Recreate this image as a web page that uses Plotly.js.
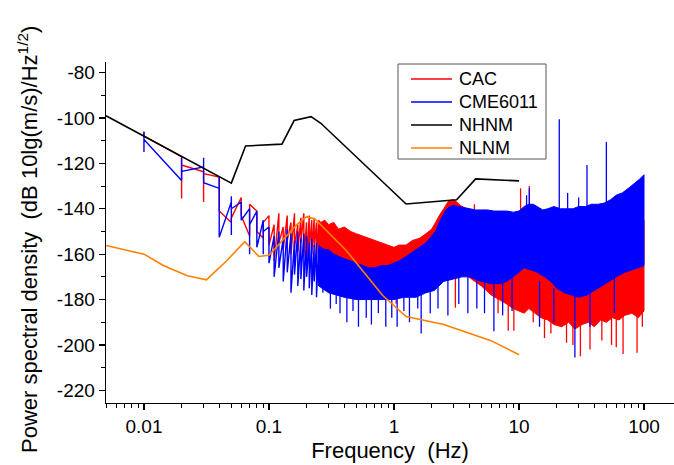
<!DOCTYPE html>
<html>
<head>
<meta charset="utf-8">
<script src="https://cdn.plot.ly/plotly-3.0.1.min.js"></script>
<style>html,body{margin:0;padding:0;background:#fff;}</style>
</head>
<body>
<div id="chart" style="width:674px;height:465px;"></div>
<script>
// ---------- names & tick labels ----------
const SERIES_NAMES = ['CAC', 'CME6011', 'NHNM', 'NLNM'];
const X_TICK_VALS = [0.01, 0.1, 1, 10, 100];
const X_TICK_TEXT = ['0.01', '0.1', '1', '10', '100'];
const Y_TICK_VALS = [-220, -200, -180, -160, -140, -120, -100, -80];
const Y_TICK_TEXT = ['-220', '-200', '-180', '-160', '-140', '-120', '-100', '-80'];

// ---------- reference noise models ----------
const NHNM_F = [0.00497, 0.05, 0.065, 0.127, 0.159, 0.217, 0.26, 1.25, 3.17, 4.5, 10];
const NHNM_V = [-99, -128.7, -112.3, -111.5, -101.1, -99.4, -102.3, -137.9, -136.0, -126.8, -127.7];

const NLNM_F = [0.00497, 0.01, 0.0143, 0.0222, 0.0316, 0.0457, 0.064, 0.083, 0.1, 0.167, 0.2, 0.233, 0.417, 0.806, 1.25, 2.5, 5.9, 10];
const NLNM_V = [-156.2, -160, -165, -169.5, -171.3, -163, -154.5, -161, -160.5, -147, -143.5, -144.5, -158.5, -178, -187.5, -191, -198, -204.3];

// ---------- CAC (red): low-frequency polyline ----------
const CAC_LOW_F = [0.01,0.01,0.02,0.02,0.02,0.03,0.03,0.03,0.04,0.04,0.05,0.05,0.06,0.06,0.07,0.07,0.08,0.08,0.09,0.09,
  0.10,0.10,0.11,0.11,0.12,0.12,0.13,0.13,0.14,0.14,0.15,0.15,0.16,0.16,0.17,0.17,0.18,0.18,0.19,0.19,0.20,0.20,0.21,0.21,0.22,0.22,0.23,0.23,0.24,0.24,0.25,0.25];
const CAC_LOW_V = [-106,-108,-117,-135.5,-120.7,-123.7,-137,-124.5,-126,-141,-146,-144,-135,-143,-152,-138,-141,-150,-153,-146,
  -143,-156,-147,-163,-142,-155,-148,-158,-143,-154,-146,-160,-142,-157,-147,-159,-144,-155,-142,-161,-146,-165,-143,-158,-145,-160,-144,-157,-146,-162,-145,-160];

// CAC dense band (upper / lower edge)
const CAC_UP_F = [0.25,0.26,0.28,0.3,0.33,0.36,0.4,0.45,0.5,0.56,0.63,0.7,0.8,0.9,1.0,1.1,1.25,1.4,1.6,1.8,2.0,2.15,2.3,2.5,2.7,2.9,3.1,3.4,3.8,4.2,4.7,5.3,6.0,6.8,7.6,8.5,9.5,10.5,11.5,13,15,18,22,27,33,40,50,60,75,90,100];
const CAC_UP_V = [-145,-146,-145,-147,-146,-149,-148,-150,-151,-152,-153,-154,-155,-156,-157,-156,-156,-154,-153,-151,-149,-146,-143,-140,-137,-136,-136.5,-138.5,-140,-140.5,-141,-141,-141.5,-141.5,-142,-142,-142.5,-142.5,-145,-148,-150,-150,-150,-150,-150,-150,-150,-148,-146,-145,-145];
const CAC_LO_F = [0.25,0.3,0.4,0.5,0.65,0.8,1.0,1.2,1.5,1.8,2.1,2.5,3,3.5,4,5,6,7,8,9,10,11,12,13.5,15,17,19,22,25,28,32,36,40,45,50,56,63,70,80,90,100];
const CAC_LO_V = [-163,-165,-166,-167,-168,-168,-167,-167,-166,-165,-163,-164,-166,-168,-170,-174,-178,-180,-182,-184,-185,-186,-184,-186,-188,-189,-191,-192,-190,-193,-191,-190,-192,-189,-190,-188,-189,-187,-186,-188,-185];

// CAC isolated spikes
const CAC_SP_F  = [0.26,1.04,1.6,3.1,4.4,6.8,8.2,9.1,10.3,12.1,13,16,18,24,27,31,37,46,55,60,68,88,97];
const CAC_SP_HI = [-160,-166,-164,-166,-138,-175,-180,-182,-131,-130,-184,-186,-186,-188,-188,-188,-188,-188,-188,-188,-186,-186,-185];
const CAC_SP_LO = [-166,-181.8,-178,-183.6,-142,-186,-193.7,-193.7,-142,-140,-190,-197,-195,-199,-200,-205,-202,-198,-200,-201,-204,-203.5,-192];

// ---------- CME6011 (blue): low-frequency polyline ----------
const CME_LOW_F = [0.01,0.01,0.01,0.02,0.02,0.02,0.03,0.03,0.03,0.04,0.04,0.04,0.05,0.05,0.05,0.05,0.06,0.06,0.07,0.07,0.07,0.08,0.08,0.09,0.09,0.09,
  0.10,0.10,0.11,0.11,0.12,0.12,0.13,0.13,0.14,0.14,0.15,0.15,0.16,0.16,0.17,0.17,0.18,0.18,0.19,0.19,0.20,0.20,0.21,0.21,0.22,0.22,0.23,0.23,0.24,0.24,0.25,0.25];
const CME_LOW_V = [-106,-115,-109.5,-127.5,-117.5,-123.5,-121.5,-117.5,-128.5,-131,-126,-152.5,-137,-134.5,-151.5,-140,-137,-145,-140,-160,-147,-141,-157,-145,-160,-150,
  -148,-164,-152,-170,-150,-166,-153,-172,-149,-168,-151,-177,-154,-169,-150,-174,-153,-171,-151,-176,-152,-170,-155,-175,-153,-178,-156,-172,-155,-179,-157,-174];

// CME6011 dense band
const CME_UP_F = [0.25,0.26,0.28,0.3,0.33,0.36,0.4,0.45,0.5,0.56,0.63,0.7,0.8,0.9,1.0,1.1,1.25,1.4,1.6,1.8,2.0,2.15,2.3,2.45,2.6,2.8,3.0,3.3,3.6,4.0,4.5,5.0,5.6,6.3,7.0,8.0,9.0,10,11,12,13,14,15.5,17,19,21.5,24,27,30,34,38,43,48,54,60,67,75,84,92,100];
const CME_UP_V = [-156,-157,-158,-158,-160,-161,-162,-163,-164,-165,-166,-166,-165,-165,-164,-163,-161,-159,-157,-155,-152,-150,-146,-143,-140.5,-139,-138.5,-139,-139.5,-140,-140.5,-140.5,-140.5,-141,-141,-141,-141.5,-141,-139,-138,-138,-139,-140.5,-140,-139,-140,-140,-140,-139,-139,-138,-138,-137.5,-136,-134,-133,-131,-129,-127,-125];
const CME_LO_F = [0.25,0.3,0.35,0.4,0.5,0.6,0.7,0.8,1.0,1.2,1.5,1.8,2.1,2.5,3,3.5,4,4.5,5,6,7,8,9,10,11,12.5,14,16,18,20,23,26,30,35,40,46,53,60,70,80,90,100];
const CME_LO_V = [-174,-177,-178,-179,-180,-180,-180,-180,-180,-179,-179,-177,-176,-172,-171,-170,-170,-171,-172,-173,-173,-172,-170,-168,-166,-167,-168,-170,-172,-175,-177,-178,-179,-178,-176,-174,-172,-170,-168,-167,-166,-165];

// CME6011 isolated spikes
const CME_SP_F  = [0.27,0.31,0.345,0.37,0.42,0.47,0.52,0.6,0.66,0.75,0.86,0.96,1.06,1.2,1.33,1.55,1.65,1.95,2.25,2.7,3.3,3.9,4.6,5.3,6.3,7.4,8.8,11.5,12.1,14.6,19,21,24.5,28,30,35,37,50,58];
const CME_SP_HI = [-172,-174,-174,-175,-176,-176,-177,-177,-177,-176,-176,-176,-176,-176,-176,-175,-175,-173,-171,-168,-168,-168,-169,-170,-171,-171,-170,-134,-131,-172,-175,-100.5,-133,-178,-135,-120.7,-175,-110.5,-170];
const CME_SP_LO = [-177,-184,-182,-186,-190,-185,-192,-188,-191,-186,-192,-188,-192,-185,-190,-184,-195,-186,-184,-187,-182,-186,-184,-186,-194,-187,-185,-141,-140,-192,-190,-140,-140,-205.5,-140,-139,-192,-138,-186];

// ---------- helpers ----------
function band(upF, upV, loF, loV) {
  return { x: upF.concat(loF.slice().reverse()), y: upV.concat(loV.slice().reverse()) };
}
function spikes(f, hi, lo) {
  const x = [], y = [];
  for (let i = 0; i < f.length; i++) { x.push(f[i], f[i], null); y.push(hi[i], lo[i], null); }
  return { x, y };
}
const COLORS = ['#ff0000', '#0000ff', '#000000', '#ff8000'];
const RED = COLORS[0], BLUE = COLORS[1];

const cacBand = band(CAC_UP_F, CAC_UP_V, CAC_LO_F, CAC_LO_V);
const cacSp = spikes(CAC_SP_F, CAC_SP_HI, CAC_SP_LO);
const cmeBand = band(CME_UP_F, CME_UP_V, CME_LO_F, CME_LO_V);
const cmeSp = spikes(CME_SP_F, CME_SP_HI, CME_SP_LO);

const traces = [
  {x: CAC_LOW_F, y: CAC_LOW_V, name: SERIES_NAMES[0], mode: 'lines', line: {color: RED, width: 1.4}},
  {x: cacBand.x, y: cacBand.y, mode: 'lines', fill: 'toself', fillcolor: RED, line: {color: RED, width: 1}, hoverinfo: 'skip'},
  {x: cacSp.x, y: cacSp.y, mode: 'lines', line: {color: RED, width: 1.3}, connectgaps: false, hoverinfo: 'skip'},
  {x: CME_LOW_F, y: CME_LOW_V, name: SERIES_NAMES[1], mode: 'lines', line: {color: BLUE, width: 1.4}},
  {x: cmeBand.x, y: cmeBand.y, mode: 'lines', fill: 'toself', fillcolor: BLUE, line: {color: BLUE, width: 1}, hoverinfo: 'skip'},
  {x: cmeSp.x, y: cmeSp.y, mode: 'lines', line: {color: BLUE, width: 1.3}, connectgaps: false, hoverinfo: 'skip'},
  {x: NHNM_F, y: NHNM_V, name: SERIES_NAMES[2], mode: 'lines', line: {color: COLORS[2], width: 1.6}},
  {x: NLNM_F, y: NLNM_V, name: SERIES_NAMES[3], mode: 'lines', line: {color: COLORS[3], width: 1.6}}
];

// minor tick positions (2..9 in each decade)
const minorX = [];
for (let d = -3; d <= 2; d++) for (let m = 2; m <= 9; m++) minorX.push(m * Math.pow(10, d));

const FONT = 'Liberation Sans, Arial, sans-serif';

// ---------- legend box (pixel layout -> paper coords) ----------
const PLOT_L = 106, PLOT_W = 568, PLOT_B = 403, PLOT_H = 341;
const px = v => (v - PLOT_L) / PLOT_W;
const py = v => (PLOT_B - v) / PLOT_H;
const LEG_ROWS = [79, 102, 125, 148];
const shapes = [{type: 'rect', xref: 'paper', yref: 'paper', x0: px(398), x1: px(546), y0: py(159), y1: py(64),
                 line: {color: '#555555', width: 1}, fillcolor: '#ffffff', layer: 'above'}];
const annotations = [];
SERIES_NAMES.forEach((name, i) => {
  shapes.push({type: 'line', xref: 'paper', yref: 'paper', x0: px(411), x1: px(452), y0: py(LEG_ROWS[i]), y1: py(LEG_ROWS[i]),
               line: {color: COLORS[i], width: 1.6}, layer: 'above'});
  annotations.push({text: name, xref: 'paper', yref: 'paper', x: px(457), y: py(LEG_ROWS[i]), xanchor: 'left', yanchor: 'middle',
                    showarrow: false, font: {family: FONT, size: 18, color: '#000'}});
});
annotations.push({
  text: 'Power spectral density\u00a0 (dB 10lg(m/s)/Hz<sup>1/2</sup>)',
  textangle: -90, xref: 'paper', yref: 'paper', x: px(28), y: py(240),
  xanchor: 'center', yanchor: 'middle', showarrow: false,
  font: {family: FONT, size: 22, color: '#000'}
});

const layout = {
  width: 674, height: 465,
  margin: {l: 106, r: 0, t: 62, b: 62},
  paper_bgcolor: '#ffffff', plot_bgcolor: '#ffffff',
  font: {family: FONT, size: 19, color: '#000'},
  showlegend: false,
  xaxis: {
    type: 'log', range: [Math.log10(0.00497), 2.24],
    showline: true, linecolor: '#000', linewidth: 1.3, mirror: false,
    ticks: 'outside', ticklen: 6, tickwidth: 1.3, tickcolor: '#000',
    tickmode: 'array', tickvals: X_TICK_VALS, ticktext: X_TICK_TEXT,
    minor: {tickmode: 'array', tickvals: minorX, ticks: 'outside', ticklen: 3.5, tickwidth: 1.2, tickcolor: '#000', showgrid: false},
    showgrid: false, zeroline: false,
    tickfont: {family: FONT, size: 19},
    title: {text: 'Frequency\u00a0 (Hz)', font: {family: FONT, size: 22}, standoff: 6}
  },
  yaxis: {
    range: [-225.6, -75.3],
    showline: true, linecolor: '#000', linewidth: 1.3, mirror: false,
    ticks: 'outside', ticklen: 6, tickwidth: 1.3, tickcolor: '#000',
    tickmode: 'array', tickvals: Y_TICK_VALS, ticktext: Y_TICK_TEXT,
    minor: {tick0: -230, dtick: 10, ticks: 'outside', ticklen: 3.5, tickwidth: 1.2, tickcolor: '#000', showgrid: false},
    showgrid: false, zeroline: false,
    tickfont: {family: FONT, size: 19}
  },
  shapes: shapes,
  annotations: annotations
};

Plotly.newPlot('chart', traces, layout, {displayModeBar: false, staticPlot: true});
</script>
</body>
</html>
